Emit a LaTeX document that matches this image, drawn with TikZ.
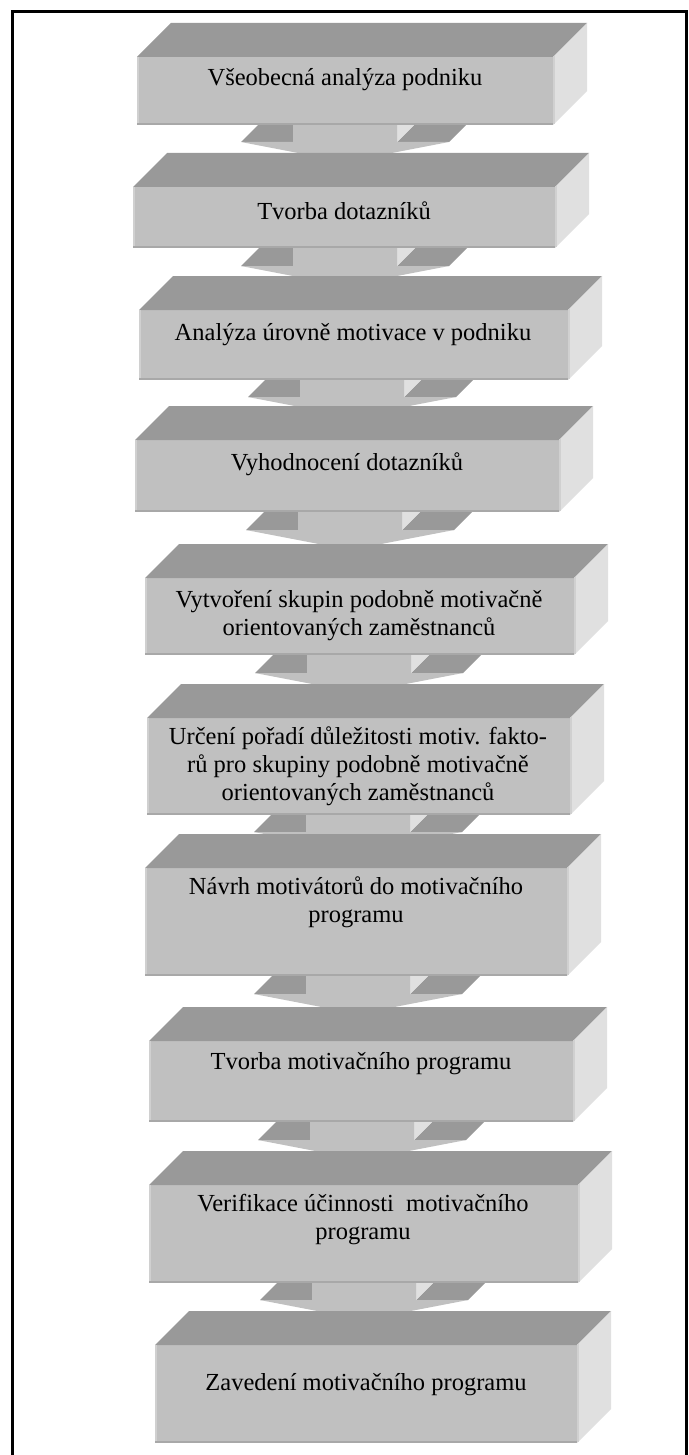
\documentclass[tikz,border=0pt]{standalone}
\usepackage{fontspec}
\setmainfont{Liberation Serif}
\definecolor{topc}{HTML}{999999}
\definecolor{frontc}{HTML}{C0C0C0}
\definecolor{sidec}{HTML}{E0E0E0}
\definecolor{bevdark}{HTML}{A8A8A8}
\definecolor{bevlight}{HTML}{D0D0D0}
\newcommand\tdbox[4]{%
  \fill[frontc] (#1,#2) rectangle (#3,#4);
  \fill[topc] (#1,#2) -- (#3,#2) -- (#3+34,#2-34) -- (#1+34,#2-34) -- cycle;
  \fill[sidec] (#3,#2) -- (#3+34,#2-34) -- (#3+34,#4-34) -- (#3,#4) -- cycle;
  \draw[bevlight,line width=2pt] (#1+1,#2) -- (#1+1,#4-1);
  \draw[bevdark,line width=2pt] (#1,#4-1) -- (#3,#4-1);
  \draw[bevlight,line width=2pt] (#3+1,#2-1) -- (#3+1,#4-1);
}
\newcommand\tdarrow[3]{% cx, top, shoulder
  \fill[topc] (#1+52,#3) -- (#1+104,#3) -- (#1+138,#3-34) -- (#1+86,#3-34) -- cycle;
  \fill[topc] (#1-104,#3) -- (#1-52,#3) -- (#1-18,#3-34) -- (#1-70,#3-34) -- cycle;
  \fill[sidec] (#1+52,#3) -- (#1+86,#3-34) -- (#1+86,#2-34) -- (#1+52,#2) -- cycle;
  \fill[frontc] (#1-52,#2) -- (#1-52,#3) -- (#1-104,#3) -- (#1,#3+20) -- (#1+104,#3) -- (#1+52,#3) -- (#1+52,#2) -- cycle;
}
\tikzset{lbl/.style={align=center,inner sep=0pt,font=\fontsize{24.5}{28}\selectfont}}
\begin{document}
\begin{tikzpicture}[x=1pt,y=-1pt]
\useasboundingbox (0,0) rectangle (688,1455);
\fill[white] (0,0) rectangle (688,1455);
% arrows (behind boxes)
\tdarrow{345}{110}{142}
\tdarrow{345}{235}{266}
\tdarrow{352}{365}{397}
\tdarrow{350}{500}{530}
\tdarrow{359}{640}{673}
\tdarrow{358}{800}{832}
\tdarrow{358}{960}{994}
\tdarrow{362}{1110}{1140}
\tdarrow{364}{1270}{1300}
% boxes
\tdbox{137}{57}{553}{125}
\tdbox{133}{187}{555}{248}
\tdbox{139}{310}{568}{380}
\tdbox{135}{440}{559}{512}
\tdbox{145}{578}{574}{655}
\tdbox{147}{718}{570}{815}
\tdbox{145}{868}{567}{976}
\tdbox{149}{1041}{573}{1122}
\tdbox{149}{1185}{578}{1283}
\tdbox{155}{1345}{577}{1443}
% texts
\node[lbl] (t1) at (345,80) {Všeobecná analýza podniku};
\node[lbl] (t2) at (344,211) {Tvorba dotazníků};
\node[lbl] (t3) at (353,335) {Analýza úrovně motivace v podniku};
\node[lbl] (t4) at (347,464) {Vyhodnocení dotazníků};
\node[lbl] (t5) at (359,616) {Vytvoření skupin podobně motivačně\\orientovaných zaměstnanců};
\node[lbl] (t6) at (358,766) {Určení pořadí důležitosti motiv. fakto-\\rů pro skupiny podobně motivačně\\orientovaných zaměstnanců};
\node[lbl] (t7) at (356,902) {Návrh motivátorů do motivačního\\programu};
\node[lbl] (t8) at (361,1064) {Tvorba motivačního programu};
\node[lbl] (t9) at (363,1220) {Verifikace účinnosti \ motivačního\\programu};
\node[lbl] (t10) at (366,1385) {Zavedení motivačního programu};
% frame
\draw[line width=3pt] (12,1456) -- (12,12) -- (686,12) -- (686,1456);
\end{tikzpicture}
\end{document}
